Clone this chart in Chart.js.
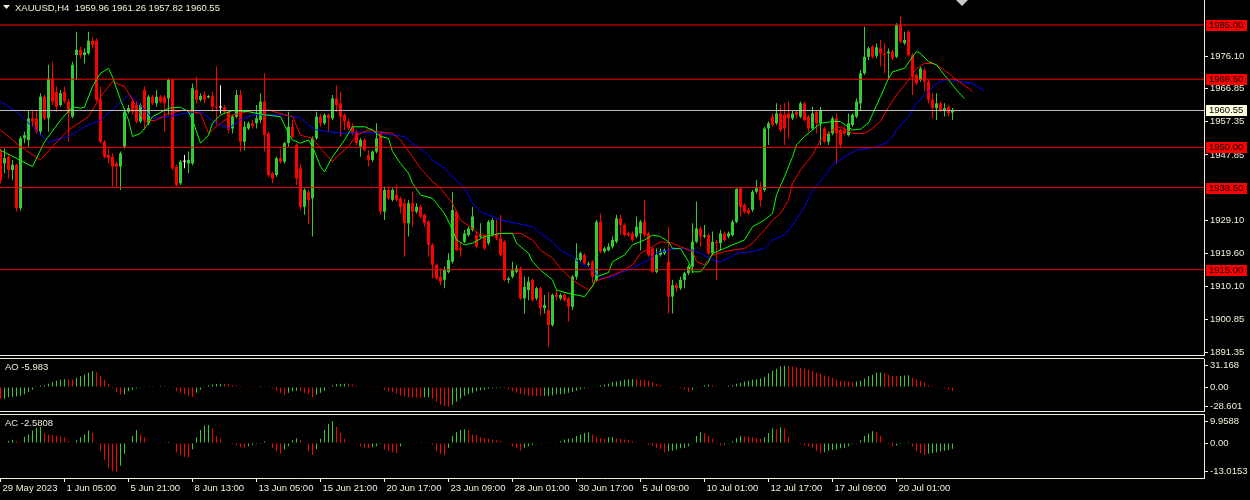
<!DOCTYPE html>
<html>
<head>
<meta charset="utf-8">
<title>XAUUSD,H4</title>
<script src="https://cdn.jsdelivr.net/npm/chart.js@4.4.1/dist/chart.umd.min.js"></script>
<style>
  html, body { margin: 0; padding: 0; background: #000; }
  body { position: relative; width: 1250px; height: 500px; overflow: hidden; }
  canvas { position: absolute; left: 0; }
</style>
</head>
<body>
<canvas id="mainChart" width="1250" height="358" style="top:0px"></canvas>
<canvas id="aoChart" width="1250" height="58" style="top:356px"></canvas>
<canvas id="acChart" width="1250" height="89" style="top:411px"></canvas>
<script>
//-----------------------------------------------------
// XAUUSD H4 with Alligator, AO and AC
//-----------------------------------------------------

// [open, high, low, close] per H4 bar, oldest first
const ohlc = [
  [1949.2,1949.7,1939.7,1940.7],[1945.4,1949.7,1942.6,1946.9],[1947.3,1948.3,1941.1,1943.5],[1943.5,1946.4,1940.7,1945.0],
  [1945.0,1945.4,1931.6,1932.6],[1932.6,1953.1,1931.9,1952.6],[1952.6,1954.5,1951.2,1953.5],[1952.1,1960.7,1950.2,1958.3],
  [1958.3,1960.7,1955.9,1957.4],[1958.3,1960.7,1954.0,1954.5],[1954.5,1965.5,1953.5,1964.5],[1964.5,1965.0,1957.8,1958.3],
  [1958.3,1973.6,1954.5,1969.7],[1969.7,1974.5,1962.1,1963.1],[1965.9,1967.4,1960.2,1961.6],[1962.1,1966.4,1961.6,1965.5],
  [1965.9,1967.4,1962.6,1963.1],[1963.1,1964.0,1951.6,1959.7],[1958.8,1974.5,1958.3,1973.6],[1976.4,1983.1,1969.3,1977.9],
  [1977.9,1978.8,1975.5,1976.4],[1976.4,1978.3,1974.0,1977.2],[1976.9,1983.1,1976.4,1980.5],[1980.5,1981.5,1978.5,1979.3],
  [1980.5,1981.2,1963.1,1963.6],[1963.6,1967.4,1951.2,1951.6],[1951.6,1952.1,1946.9,1947.3],[1947.8,1949.7,1945.4,1946.9],
  [1947.3,1948.3,1938.8,1944.5],[1945.4,1945.9,1938.3,1944.5],[1944.5,1948.8,1937.8,1948.3],[1950.2,1961.2,1949.7,1960.2],
  [1960.2,1962.1,1959.7,1961.2],[1963.1,1964.0,1959.3,1960.2],[1962.1,1963.1,1956.9,1957.4],[1957.4,1962.6,1956.9,1962.1],
  [1966.4,1967.4,1955.0,1957.8],[1956.9,1965.0,1956.4,1964.5],[1964.5,1965.0,1962.1,1962.6],[1962.6,1966.4,1961.6,1964.5],
  [1964.5,1965.0,1962.6,1963.1],[1964.5,1965.0,1954.5,1962.6],[1964.0,1969.7,1959.3,1969.3],[1969.3,1969.7,1943.5,1944.0],
  [1944.5,1945.0,1938.8,1939.2],[1939.7,1946.4,1939.2,1945.9],[1945.9,1947.8,1944.0,1945.9],[1945.4,1948.8,1942.6,1946.4],
  [1945.4,1968.3,1944.9,1966.9],[1966.4,1970.2,1962.6,1963.6],[1963.6,1965.5,1963.1,1964.7],[1965.0,1965.9,1962.6,1963.6],
  [1964.3,1965.0,1964.0,1964.7],[1964.7,1965.9,1960.2,1961.6],[1961.8,1973.1,1956.4,1961.4],[1961.4,1967.8,1959.7,1961.4],
  [1961.4,1962.1,1959.7,1960.2],[1960.2,1960.7,1954.0,1955.0],[1955.4,1959.3,1954.0,1958.8],[1958.8,1966.4,1958.3,1965.0],
  [1965.0,1966.4,1948.8,1951.6],[1951.6,1957.4,1949.2,1955.9],[1955.4,1957.4,1955.0,1956.9],[1956.9,1957.8,1955.4,1956.1],
  [1956.9,1962.1,1955.4,1958.3],[1957.8,1965.5,1956.9,1963.1],[1963.1,1971.2,1948.8,1953.5],[1954.0,1954.5,1941.6,1942.1],
  [1942.6,1943.0,1939.7,1941.1],[1942.1,1947.3,1941.6,1946.9],[1946.9,1949.7,1945.4,1945.9],[1945.9,1951.6,1945.4,1951.2],
  [1951.2,1960.2,1950.2,1955.9],[1955.9,1957.8,1952.6,1953.1],[1950.7,1951.2,1939.2,1941.1],[1944.0,1945.4,1932.0,1933.0],
  [1933.0,1938.3,1930.7,1937.8],[1937.3,1937.8,1928.0,1935.0],[1935.4,1953.1,1924.5,1952.6],[1952.6,1960.2,1952.1,1958.8],
  [1958.8,1959.7,1955.9,1956.9],[1956.9,1959.7,1956.4,1959.3],[1959.3,1959.7,1954.5,1958.3],[1958.3,1965.0,1957.8,1964.0],
  [1964.0,1967.8,1960.2,1962.1],[1962.6,1965.9,1953.1,1958.8],[1959.3,1959.7,1955.0,1957.4],[1957.4,1958.3,1955.0,1955.4],
  [1955.9,1956.9,1953.5,1954.0],[1954.5,1955.0,1950.7,1951.2],[1950.2,1952.6,1947.3,1952.1],[1952.1,1952.6,1948.8,1949.2],
  [1947.8,1949.2,1944.5,1946.4],[1946.4,1949.2,1945.9,1948.8],[1948.8,1956.9,1948.3,1952.6],[1954.0,1954.5,1930.7,1931.6],
  [1931.6,1938.8,1929.2,1937.8],[1937.8,1938.8,1934.9,1935.4],[1935.0,1938.3,1934.5,1937.8],[1936.4,1939.2,1934.5,1935.0],
  [1935.4,1935.9,1931.1,1933.0],[1934.0,1935.4,1918.7,1928.3],[1928.3,1935.0,1924.5,1934.0],[1934.0,1937.3,1927.3,1931.6],
  [1931.6,1934.0,1931.1,1933.0],[1933.0,1933.5,1929.7,1930.2],[1930.7,1931.1,1927.3,1928.3],[1928.7,1929.2,1918.7,1922.1],
  [1922.1,1922.6,1912.5,1916.4],[1916.4,1916.8,1912.1,1912.5],[1913.0,1915.4,1910.6,1911.6],[1912.1,1915.9,1909.7,1914.9],
  [1914.4,1919.7,1914.0,1917.8],[1917.3,1937.3,1916.8,1932.1],[1931.6,1932.1,1920.2,1920.6],[1921.1,1922.6,1918.7,1920.6],
  [1923.0,1926.4,1922.6,1925.4],[1924.9,1927.3,1924.5,1926.8],[1926.4,1933.0,1925.9,1930.2],[1924.9,1925.9,1921.1,1921.6],
  [1924.5,1928.3,1924.0,1924.9],[1924.5,1924.9,1920.6,1921.1],[1922.6,1929.2,1922.1,1928.7],[1924.9,1929.7,1924.5,1929.2],
  [1924.9,1929.2,1923.5,1924.0],[1924.0,1930.7,1918.8,1919.2],[1923.0,1923.5,1911.6,1912.1],[1912.1,1913.0,1911.1,1912.5],
  [1913.0,1917.3,1912.5,1914.9],[1914.4,1916.4,1914.0,1915.4],[1915.4,1915.9,1906.3,1906.8],[1906.8,1913.0,1902.5,1910.1],
  [1909.2,1913.0,1906.3,1911.6],[1912.1,1912.5,1905.9,1906.3],[1906.8,1910.1,1906.3,1909.7],[1909.7,1910.1,1902.0,1904.0],
  [1904.0,1907.8,1902.5,1904.9],[1903.5,1908.7,1893.0,1899.2],[1899.2,1908.2,1898.7,1907.8],[1907.8,1909.2,1906.3,1907.3],
  [1906.8,1908.2,1906.3,1907.8],[1907.8,1908.2,1905.9,1906.3],[1906.8,1907.3,1900.2,1904.4],[1904.4,1913.5,1903.5,1913.0],
  [1913.0,1922.6,1912.1,1918.3],[1917.8,1920.2,1917.3,1919.7],[1919.2,1919.7,1916.4,1916.8],[1916.4,1917.3,1915.9,1916.8],
  [1917.3,1917.8,1911.1,1913.0],[1912.1,1929.2,1911.6,1928.7],[1928.7,1931.1,1919.7,1920.2],[1920.2,1921.6,1919.7,1921.1],
  [1920.6,1922.6,1920.2,1921.6],[1921.6,1924.5,1921.1,1923.5],[1923.0,1930.7,1922.6,1929.7],[1929.7,1930.7,1924.9,1927.8],
  [1927.8,1928.3,1924.5,1924.9],[1925.4,1925.9,1924.5,1924.9],[1925.4,1925.9,1923.0,1923.5],[1924.5,1930.2,1924.0,1927.3],
  [1925.4,1929.2,1920.6,1928.7],[1928.7,1934.9,1924.5,1924.9],[1925.4,1925.9,1918.7,1919.2],[1921.1,1921.6,1914.0,1914.4],
  [1914.4,1921.1,1914.0,1919.2],[1919.2,1921.1,1918.7,1920.2],[1919.7,1921.1,1919.2,1920.6],[1917.3,1927.3,1902.5,1907.3],
  [1907.3,1912.1,1902.5,1910.6],[1910.6,1911.1,1908.7,1909.7],[1909.7,1913.0,1909.2,1912.1],[1912.1,1914.4,1909.7,1914.0],
  [1914.0,1916.4,1913.5,1915.9],[1915.9,1928.3,1914.0,1923.0],[1923.0,1934.5,1922.6,1926.8],[1926.8,1927.3,1921.6,1924.5],
  [1924.5,1927.8,1924.0,1924.9],[1924.9,1925.4,1919.2,1919.7],[1919.7,1925.9,1919.2,1923.0],[1923.0,1923.5,1912.1,1922.6],
  [1922.6,1926.4,1920.6,1925.4],[1925.4,1925.9,1923.0,1923.5],[1924.5,1925.9,1924.0,1925.4],[1924.9,1929.2,1924.5,1928.7],
  [1928.7,1938.3,1928.3,1938.1],[1938.3,1938.5,1930.2,1933.0],[1933.5,1934.0,1931.1,1931.6],[1932.1,1932.6,1930.7,1931.1],
  [1932.1,1937.8,1931.6,1937.3],[1937.3,1940.7,1936.8,1938.3],[1938.3,1940.2,1933.0,1935.0],[1937.8,1955.9,1937.3,1955.4],
  [1955.4,1957.4,1950.7,1956.9],[1958.8,1959.7,1955.9,1956.4],[1956.9,1962.6,1956.4,1959.7],[1959.7,1962.1,1954.5,1955.0],
  [1959.3,1962.6,1950.7,1955.4],[1959.7,1963.1,1952.6,1958.3],[1958.3,1960.7,1957.8,1959.7],[1960.2,1960.7,1958.3,1959.3],
  [1958.8,1963.1,1958.3,1962.6],[1962.6,1963.1,1957.4,1957.8],[1958.8,1959.3,1954.5,1955.4],[1955.4,1961.6,1955.0,1959.7],
  [1960.2,1960.7,1954.0,1956.9],[1956.9,1961.6,1950.7,1960.7],[1955.4,1955.9,1951.2,1951.6],[1951.6,1954.5,1950.7,1954.0],
  [1954.0,1958.8,1953.5,1958.3],[1958.3,1959.7,1945.4,1954.0],[1955.0,1955.4,1949.7,1950.7],[1955.0,1955.9,1953.5,1954.0],
  [1953.5,1959.7,1953.1,1956.9],[1956.4,1959.7,1955.9,1959.3],[1958.8,1964.0,1958.3,1963.1],[1962.6,1972.1,1960.7,1971.2],
  [1971.2,1984.5,1970.7,1975.9],[1975.9,1978.8,1975.0,1978.3],[1978.8,1979.3,1975.4,1975.9],[1976.2,1979.8,1975.5,1978.6],
  [1978.3,1980.7,1973.1,1976.9],[1976.9,1979.8,1971.2,1976.4],[1976.9,1978.3,1969.3,1977.4],[1977.4,1977.9,1975.0,1975.5],
  [1975.9,1985.5,1975.5,1985.0],[1985.0,1987.4,1979.8,1980.2],[1979.8,1983.1,1979.3,1980.7],[1983.1,1983.6,1975.9,1976.4],
  [1976.4,1976.9,1965.0,1970.2],[1970.7,1971.2,1967.8,1968.3],[1969.3,1973.1,1968.8,1972.6],[1972.1,1972.6,1966.0,1968.8],
  [1968.8,1969.3,1962.6,1963.6],[1963.6,1965.5,1958.3,1961.2],[1961.2,1965.5,1957.8,1962.6],[1962.6,1963.1,1960.2,1960.7],
  [1960.7,1962.6,1958.8,1961.2],[1961.6,1962.1,1958.8,1959.7],[1959.96,1961.26,1957.82,1960.55]
];

// Alligator lines, [bar, price] (they run a few bars past the last candle)
const lips = [[0,1949.2],[8,1944.5],[11,1951.6],[15,1957.8],[18,1961.6],[20,1961.2],[21,1961.5],[23,1967.4],[25,1971.2],[27,1972.6],[28,1970.2],[30,1963.6],[32,1957.8],[33,1953.1],[35,1954.0],[37,1956.9],[38,1958.8],[42,1961.2],[45,1961.5],[47,1960.2],[48,1957.8],[50,1951.2],[52,1953.5],[53,1956.9],[55,1959.3],[58,1960.5],[62,1960.2],[66,1959.3],[70,1958.8],[72,1954.0],[73,1952.1],[75,1951.2],[77,1952.1],[78,1950.2],[80,1944.5],[81,1943.0],[83,1947.3],[86,1952.1],[88,1955.9],[91,1955.9],[93,1955.0],[95,1953.1],[97,1952.6],[98,1948.8],[100,1945.4],[102,1942.6],[103,1939.7],[105,1936.4],[108,1935.4],[109,1934.0],[111,1931.1],[113,1926.4],[114,1923.5],[116,1922.1],[118,1922.6],[121,1924.5],[123,1924.9],[125,1925.4],[128,1925.4],[129,1922.6],[132,1919.7],[133,1917.3],[135,1914.9],[138,1912.1],[139,1909.2],[142,1908.2],[144,1907.8],[146,1907.3],[148,1910.2],[149,1913.0],[152,1914.2],[153,1917.3],[156,1919.2],[158,1922.1],[161,1923.5],[163,1924.9],[165,1924.5],[167,1923.0],[168,1921.1],[170,1921.1],[172,1917.3],[173,1914.4],[175,1914.4],[177,1917.3],[178,1919.7],[181,1921.1],[183,1922.1],[186,1923.5],[188,1927.3],[191,1929.2],[193,1931.1],[194,1936.4],[196,1941.6],[198,1947.3],[199,1950.7],[201,1953.1],[203,1955.0],[205,1956.9],[208,1957.4],[210,1957.4],[213,1955.0],[215,1955.2],[217,1957.0],[218,1959.5],[220,1964.5],[222,1969.7],[223,1971.6],[226,1972.6],[228,1975.9],[229,1977.4],[230,1976.9],[232,1974.5],[234,1973.6],[235,1972.1],[237,1969.3],[239,1966.4],[241,1964.0]];
const teeth = [[0,1955.0],[5,1950.2],[10,1946.4],[13,1950.2],[17,1955.0],[22,1958.8],[25,1964.5],[28,1968.8],[31,1967.4],[33,1963.6],[36,1957.4],[39,1957.8],[42,1959.7],[46,1960.7],[50,1959.7],[52,1954.0],[55,1956.9],[58,1959.3],[63,1960.5],[67,1960.7],[71,1959.3],[73,1958.8],[75,1953.5],[78,1952.6],[80,1949.7],[83,1945.9],[84,1947.3],[87,1950.2],[89,1953.5],[92,1955.0],[94,1954.5],[98,1954.0],[100,1952.1],[103,1947.3],[105,1944.0],[108,1940.2],[110,1938.3],[113,1934.0],[115,1929.2],[118,1926.8],[120,1924.9],[123,1924.9],[125,1925.4],[130,1925.4],[133,1923.5],[135,1920.6],[138,1918.3],[140,1915.4],[143,1912.1],[145,1910.6],[147,1909.2],[149,1911.8],[152,1913.0],[155,1914.4],[158,1916.4],[160,1919.7],[163,1921.6],[165,1923.0],[168,1922.6],[170,1921.6],[173,1920.2],[174,1917.3],[176,1916.4],[178,1919.2],[181,1920.2],[183,1920.6],[186,1921.1],[188,1922.6],[191,1926.4],[193,1929.2],[195,1931.1],[197,1934.9],[198,1939.7],[200,1943.5],[203,1947.8],[205,1952.1],[208,1955.0],[210,1955.9],[213,1954.0],[216,1954.0],[218,1955.4],[220,1957.5],[222,1961.5],[224,1965.0],[227,1969.3],[229,1972.6],[231,1974.0],[233,1974.0],[234,1973.6],[237,1971.2],[239,1969.3],[242,1966.9],[243,1966.0]];
const jaw = [[0,1963.1],[4,1960.2],[8,1955.9],[12,1951.6],[17,1953.1],[21,1955.9],[25,1957.8],[28,1960.7],[32,1965.0],[33,1964.5],[36,1960.7],[38,1958.3],[42,1958.8],[46,1959.7],[50,1960.2],[54,1956.9],[57,1955.4],[60,1957.8],[63,1959.3],[71,1959.3],[75,1958.5],[77,1956.4],[79,1955.0],[82,1954.5],[86,1954.0],[90,1954.4],[95,1954.0],[98,1953.5],[101,1953.1],[103,1951.2],[106,1948.8],[108,1946.4],[111,1944.0],[113,1941.6],[116,1938.3],[118,1934.0],[120,1931.6],[123,1930.2],[125,1929.2],[129,1928.3],[133,1927.3],[135,1925.4],[138,1923.0],[140,1920.6],[143,1918.7],[145,1916.8],[148,1914.9],[150,1912.5],[153,1913.0],[155,1914.2],[158,1915.4],[162,1917.8],[164,1919.7],[167,1920.6],[170,1921.1],[173,1920.6],[175,1919.7],[178,1917.8],[180,1917.3],[182,1918.3],[184,1919.7],[188,1920.2],[191,1921.1],[193,1923.5],[196,1924.9],[198,1927.8],[201,1933.0],[203,1937.8],[206,1941.6],[208,1945.0],[211,1947.3],[214,1949.2],[217,1949.7],[219,1950.2],[222,1951.6],[223,1953.1],[224,1955.0],[227,1958.8],[229,1962.6],[232,1965.9],[234,1968.3],[236,1969.3],[238,1969.3],[240,1968.8],[243,1968.3],[246,1966.1]];

// Awesome Oscillator, one value per bar
const aoValues = [
  -17.2,-17.0,-15.0,-14.1,-13.9,-12.8,-10.6,-7.0,-4.0,0.3,
  2.4,2.7,4.8,7.0,9.2,10.6,11.4,11.3,11.1,13.6,
  15.8,18.0,21.1,23.3,21.6,15.8,10.6,4.4,-1.8,-7.0,
  -11.4,-10.6,-6.2,-4.0,-1.8,-0.4,0.3,0.2,0.1,0.0,
  0.2,0.3,0.4,-1.5,-6.0,-8.4,-10.6,-12.8,-14.5,-8.4,
  -4.0,-0.4,2.6,3.8,4.4,4.8,4.6,3.5,2.8,2.4,
  1.6,0.6,0.3,0.1,-0.2,0.1,0.4,0.5,-1.8,-5.3,
  -8.4,-11.4,-8.4,-6.2,-5.3,-6.2,-8.4,-10.6,-15.0,-11.4,
  -8.4,-5.3,-0.5,2.6,4.0,4.6,4.8,4.6,3.5,1.8,
  0.8,0.4,0.3,0.2,0.1,-0.2,-4.0,-6.2,-7.0,-10.0,
  -12.5,-14.0,-15.0,-15.5,-15.8,-16.0,-15.0,-14.8,-17.2,-21.6,
  -26.0,-28.2,-28.601,-26.0,-21.6,-17.2,-12.8,-10.6,-8.4,-6.2,
  -4.6,-4.0,-2.6,-1.9,-1.7,-1.5,-1.8,-4.0,-6.2,-8.4,
  -9.7,-11.4,-12.4,-12.8,-13.0,-13.1,-12.8,-12.7,-12.5,-10.6,
  -10.4,-9.7,-8.4,-7.0,-5.3,-3.1,-1.8,-0.4,0.4,1.3,
  2.6,3.5,4.8,7.0,7.9,9.2,10.6,11.4,11.5,11.3,
  10.6,10.4,9.2,7.0,4.8,2.6,0.8,0.4,0.2,-0.3,
  -1.8,-4.0,-7.0,-4.0,-0.4,0.4,2.6,3.5,2.6,1.3,
  0.6,0.3,1.8,2.6,4.8,6.2,7.9,9.2,10.6,11.4,
  12.3,15.0,20.2,23.8,26.8,29.9,31.168,30.5,29.8,29.0,
  28.2,26.8,25.5,23.8,21.1,19.4,16.7,15.0,13.6,10.6,
  9.2,8.5,7.9,7.0,7.9,9.2,12.3,15.8,18.0,21.1,
  21.3,20.2,18.0,15.8,15.6,16.3,16.8,17.2,13.6,11.4,
  9.2,6.2,2.6,0.4,-0.2,-1.5,-1.8,-4.0,-5.983
];

// Accelerator Oscillator, one value per bar
const acValues = [
  -0.1,0.3,0.9,1.5,0.8,0.5,2.8,3.9,5.7,6.9,
  7.3,4.3,3.9,3.5,3.2,3.0,2.6,0.8,0.3,1.2,
  2.6,3.9,5.7,4.6,-0.5,-3.5,-7.6,-11.6,-12.8,-13.0153,
  -10.3,-4.9,-0.3,3.2,5.9,3.9,2.6,0.3,0.0,-0.1,
  0.3,0.4,0.5,-0.3,-4.2,-5.5,-6.2,-6.5,-2.8,2.6,
  5.9,8.0,8.2,6.6,3.2,1.9,0.0,-0.3,-0.5,-1.1,
  -1.9,-2.2,-1.5,-0.8,-0.5,-0.3,0.8,-0.1,-2.2,-3.5,
  -4.9,-2.8,-1.5,1.2,2.2,1.2,-0.1,-3.5,-5.5,-2.8,
  1.9,5.9,8.6,9.9588,7.3,4.6,1.9,0.3,-0.1,-0.5,
  -1.5,-2.2,-2.4,-1.9,-1.5,-0.5,-2.8,-3.5,-4.2,-4.6,
  -1.5,-0.1,0.1,0.2,0.3,0.35,0.4,0.1,-0.8,-3.5,
  -4.9,-5.5,-2.2,3.2,4.9,5.9,6.2,5.7,3.9,3.5,
  2.6,2.2,1.9,1.6,1.2,0.8,-0.1,-0.5,-1.5,-2.2,
  -3.5,-2.2,-1.5,-0.8,-0.3,-0.1,0.3,-0.1,0.0,0.3,
  0.8,1.6,1.9,2.2,3.2,3.9,4.6,4.9,3.9,2.6,
  2.2,1.9,2.6,2.7,2.2,1.9,1.6,1.2,0.8,0.3,
  0.1,-0.1,-0.8,-1.5,-2.2,-2.8,-4.2,-3.8,-3.5,-2.8,
  -2.4,-2.2,-1.5,0.3,3.2,4.9,4.6,3.2,1.9,-0.5,
  -1.1,-0.8,-0.1,0.8,2.2,3.2,3.0,2.8,2.6,2.2,
  1.9,2.6,4.6,6.6,6.2,7.0,6.6,2.6,-0.1,-0.3,
  -0.5,-1.1,-1.5,-2.2,-3.5,-4.6,-4.2,-3.5,-3.2,-2.8,
  -2.4,-2.2,-1.5,-0.5,-0.1,1.2,3.2,4.3,5.3,4.9,
  3.2,0.3,-0.5,-1.5,-1.1,-0.5,-0.1,0.05,-1.5,-3.5,
  -4.6,-5.5,-4.9,-4.6,-4.2,-3.8,-3.5,-3.2,-2.5808
];

const levels = [1985.00, 1969.50, 1950.00, 1938.50, 1915.00];
const lastPrice = 1960.55;
const priceTicks = [1976.10, 1966.85, 1957.35, 1947.85, 1929.10, 1919.60, 1910.10, 1900.85, 1891.35];
const aoTicks = [31.168, 0, -28.601];
const aoTickLabels = ['31.168', '0.00', '-28.601'];
const acTicks = [9.9588, 0, -13.0153];
const acTickLabels = ['9.9588', '0.00', '-13.0153'];
const timeTickBars = [0, 16, 32, 48, 64, 80, 96, 112, 128, 144, 160, 176, 192, 208, 224];
const timeLabels = ['29 May 2023', '1 Jun 05:00', '5 Jun 21:00', '8 Jun 13:00', '13 Jun 05:00', '15 Jun 21:00',
  '20 Jun 17:00', '23 Jun 09:00', '28 Jun 01:00', '30 Jun 17:00', '5 Jul 09:00', '10 Jul 01:00',
  '12 Jul 17:00', '17 Jul 09:00', '20 Jul 01:00'];
const header = 'XAUUSD,H4  1959.96 1961.26 1957.82 1960.55';

// look
const FG = '#f0f0d8';
const UP = '#32cd32';
const DOWN = '#ff0000';
const DOJI = '#ffffff';
const FONT = { family: 'Liberation Sans', size: 9.5 };
const FONT_CSS = '9.5px "Liberation Sans"';
const X_MIN = -0.125, X_MAX = 300.875; // 4 px per bar over a 1204 px plot
const RIGHT_W = 46;

const candleColors = ohlc.map(c => c[3] > c[0] ? UP : (c[3] < c[0] ? DOWN : DOJI));
const histColors = vals => vals.map((v, i) => (i > 0 && v > vals[i - 1]) ? UP : DOWN);

function xAxis(show) {
    return {
        type: 'linear', min: X_MIN, max: X_MAX, display: show, offset: false,
        grid: { display: show, drawOnChartArea: false, drawTicks: true, tickLength: 4, tickColor: FG, offset: false },
        border: { display: show, color: FG },
        afterFit: s => {
            s.height = show ? 22 : 0;
            s.paddingLeft = 0; s.paddingRight = 0;
        },
        afterBuildTicks: s => { s.ticks = timeTickBars.map(v => ({ value: v })); },
        ticks: {
            display: show, autoSkip: false, maxRotation: 0, minRotation: 0, align: 'start', labelOffset: 2, padding: 1,
            color: FG, font: FONT,
            callback: (v, k) => timeLabels[k]
        }
    };
}

function yAxis(min, max, ticks, labels) {
    return {
        type: 'linear', position: 'right', min: min, max: max,
        afterFit: s => {
            s.width = RIGHT_W;
            s.paddingTop = 0; s.paddingBottom = 0;
        },
        afterBuildTicks: s => { s.ticks = ticks.map(v => ({ value: v })); },
        grid: { drawOnChartArea: false, drawTicks: true, tickLength: 4, tickColor: FG },
        border: { display: true, color: FG },
        ticks: { autoSkip: false, padding: 2, color: FG, font: FONT, callback: (v, k) => labels[k] }
    };
}

function baseOptions(padding, xShow, yOpts) {
    return {
        responsive: false, animation: false, devicePixelRatio: 1, events: [],
        layout: { padding: padding },
        plugins: { legend: { display: false }, tooltip: { enabled: false } },
        scales: { x: xAxis(xShow), y: yOpts }
    };
}

function hline(ctx, y, right) {
    ctx.fillStyle = FG;
    ctx.fillRect(0, y, right, 1);
}

// price chart
const lineSet = (pts, color) => ({
    type: 'line', data: pts.map(p => ({ x: p[0], y: p[1] })), borderColor: color,
    borderWidth: 1, pointRadius: 0, tension: 0, order: 1
});
const levelSet = (v, color) => ({
    type: 'line', data: [{ x: X_MIN, y: v }, { x: X_MAX, y: v }], borderColor: color,
    borderWidth: 1, pointRadius: 0, order: 0
});

const mainDecor = {
    id: 'mainDecor',
    afterDraw(chart) {
        const ctx = chart.ctx;
        const ys = chart.scales.y;
        ctx.save();
        hline(ctx, 355, chart.chartArea.right);
        ctx.font = FONT_CSS;
        ctx.textBaseline = 'middle';
        const box = (v, bg) => {
            const py = Math.round(ys.getPixelForValue(v));
            ctx.fillStyle = bg;
            ctx.fillRect(1206, py - 5, 41, 11);
            ctx.fillStyle = '#000';
            ctx.fillText(v.toFixed(2), 1209, py + 0.5);
        };
        levels.forEach(v => box(v, '#ff0000'));
        box(lastPrice, '#ffffe0');
        // symbol header
        ctx.fillStyle = FG;
        ctx.beginPath(); ctx.moveTo(3, 5); ctx.lineTo(10, 5); ctx.lineTo(6.5, 9); ctx.closePath(); ctx.fill();
        ctx.fillText(header, 15, 8);
        // chart shift marker
        ctx.fillStyle = '#c8c8c8';
        ctx.beginPath(); ctx.moveTo(956, 0); ctx.lineTo(968, 0); ctx.lineTo(962, 6); ctx.closePath(); ctx.fill();
        ctx.restore();
    }
};

new Chart(document.getElementById('mainChart'), {
    type: 'bar',
    data: {
        datasets: [
            ...levels.map(v => levelSet(v, '#ff0000')),
            levelSet(lastPrice, '#c0c0c0'),
            lineSet(lips, '#00ff00'),
            lineSet(teeth, '#ff0000'),
            lineSet(jaw, '#0000ff'),
            {
                type: 'bar', order: 2, grouped: false, barThickness: 3, minBarLength: 1,
                inflateAmount: 0, borderWidth: 0, backgroundColor: candleColors,
                data: ohlc.map((c, i) => ({ x: i, y: [Math.min(c[0], c[3]), Math.max(c[0], c[3])] }))
            },
            {
                type: 'bar', order: 3, grouped: false, barThickness: 1,
                inflateAmount: 0, borderWidth: 0, backgroundColor: candleColors,
                data: ohlc.map((c, i) => ({ x: i, y: [c[2], c[1]] }))
            }
        ]
    },
    options: baseOptions({ top: 0, right: 0, bottom: 3, left: 0 }, false,
        yAxis(1890.61, 1992.15, priceTicks, priceTicks.map(v => v.toFixed(2)))),
    plugins: [mainDecor]
});

// indicator windows
function panelDecor(label, topY, bottomY) {
    return {
        id: 'panelDecor',
        afterDraw(chart) {
            const ctx = chart.ctx;
            ctx.save();
            hline(ctx, topY, chart.chartArea.right);
            if (bottomY !== null) hline(ctx, bottomY, chart.chartArea.right);
            ctx.font = FONT_CSS;
            ctx.textBaseline = 'middle';
            ctx.fillStyle = FG;
            ctx.fillText(label, 5, topY + 9);
            ctx.restore();
        }
    };
}

function histSet(vals) {
    return {
        type: 'bar', grouped: false, barThickness: 1, inflateAmount: 0, borderWidth: 0,
        backgroundColor: histColors(vals),
        data: vals.map((v, i) => ({ x: i, y: v }))
    };
}

new Chart(document.getElementById('aoChart'), {
    type: 'bar',
    data: { datasets: [histSet(aoValues)] },
    options: baseOptions({ top: 3, right: 0, bottom: 3, left: 0 }, false,
        yAxis(-35.0, 40.9, aoTicks, aoTickLabels)),
    plugins: [panelDecor('AO -5.983', 2, 55)]
});

new Chart(document.getElementById('acChart'), {
    type: 'bar',
    data: { datasets: [histSet(acValues)] },
    options: baseOptions({ top: 3, right: 0, bottom: 0, left: 0 }, true,
        yAxis(-15.9, 13.18, acTicks, acTickLabels)),
    plugins: [panelDecor('AC -2.5808', 3, null)]
});
</script>
</body>
</html>
